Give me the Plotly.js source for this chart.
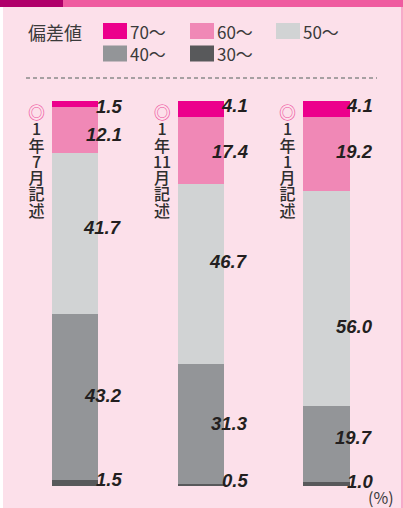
<!DOCTYPE html>
<html>
<head>
<meta charset="utf-8">
<script src="https://cdn.plot.ly/plotly-3.0.1.min.js"></script>
<style>
html,body{margin:0;padding:0;background:#FCE0EA;}
#chart{width:403px;height:508px;}
</style>
</head>
<body>
<div id="chart"></div>
<script>
// ---- data ----
var periods = ['1年7月記述', '1年11月記述', '1年1月記述'];
var legendTitle = '偏差値';
var seriesNames = ['70～', '60～', '50～', '40～', '30～'];
var v70 = [1.5, 4.1, 4.1];
var v60 = [12.1, 17.4, 19.2];
var v50 = [41.7, 46.7, 56.0];
var v40 = [43.2, 31.3, 19.7];
var v30 = [1.5, 0.5, 1.0];
var unitLabel = '(%)';

// ---- style ----
var W = 403, H = 508;
var colors = {'70～': '#EC008C', '60～': '#F088B6', '50～': '#D1D3D4', '40～': '#939598', '30～': '#58595B'};
var seriesVals = {'70～': v70, '60～': v60, '50～': v50, '40～': v40, '30～': v30};
var stackOrder = ['30～', '40～', '50～', '60～', '70～']; // bottom -> top
// label nudges in px (positive = down), layout only
var nudges = {'70～': [3, -3, -3], '60～': [4, 1, -2], '50～': [-6, -12, 28], '40～': [-2, 0, -7], '30～': [-4, -5, -3]};

function py(p) { return 1 - p / H; }

var traces = stackOrder.map(function (name) {
  return {
    type: 'bar',
    name: name,
    x: periods,
    y: seriesVals[name],
    marker: {color: colors[name], line: {width: 0}},
    width: 0.366,
    hoverinfo: 'skip',
    showlegend: false
  };
});

var annotations = [];
var shapes = [];

// value labels
var cum = periods.map(function () { return 0; });
stackOrder.forEach(function (name) {
  var vals = seriesVals[name];
  vals.forEach(function (v, i) {
    var mid = cum[i] + v / 2;
    cum[i] += v;
    annotations.push({
      x: periods[i], y: mid, xref: 'x', yref: 'y',
      text: v.toFixed(1),
      showarrow: false, xanchor: 'right', yanchor: 'middle',
      xshift: 49, yshift: -nudges[name][i],
      font: {family: 'Liberation Sans, Arial, sans-serif', size: 18.5, color: '#231F20', weight: 'bold', style: 'italic'}
    });
  });
});

// vertical period labels (one stacked text per period)
periods.forEach(function (p, i) {
  var rows = p.match(/\d+|./g).map(function (r) {
    return '<span style="font-size:16px;font-weight:500;color:#2E2E2E">' + r + '</span>';
  });
  rows.unshift('<span style="font-size:17px;color:#EE4E9C">◎</span>');
  annotations.push({
    x: periods[i], xref: 'x', y: py(160), yref: 'paper',
    text: rows.join('<br>'), showarrow: false, xanchor: 'center', yanchor: 'middle',
    align: 'center', xshift: -39,
    font: {family: 'Noto Sans CJK JP, sans-serif', size: 12.5, color: '#2E2E2E'}
  });
});

// custom legend
annotations.push({
  x: 26 / W, xref: 'paper', y: py(32), yref: 'paper', text: legendTitle,
  showarrow: false, xanchor: 'left', yanchor: 'middle',
  font: {family: 'Noto Sans CJK JP, sans-serif', size: 18, color: '#3A3A3A'}
});
var legCols = [103, 190, 276];
var legRows = [31, 53.5];
seriesNames.forEach(function (name, j) {
  var cx = legCols[j % 3], cy = legRows[Math.floor(j / 3)];
  shapes.push({
    type: 'rect', xref: 'paper', yref: 'paper',
    x0: cx / W, x1: (cx + 24) / W, y0: py(cy - 8), y1: py(cy + 8),
    fillcolor: colors[name], line: {width: 0}
  });
  annotations.push({
    x: (cx + 25) / W, xref: 'paper', y: py(cy), yref: 'paper', text: name,
    showarrow: false, xanchor: 'left', yanchor: 'middle',
    font: {family: 'Noto Sans CJK JP, sans-serif', size: 17, color: '#3A3A3A'}
  });
});

// unit
annotations.push({
  x: 396 / W, xref: 'paper', y: py(497), yref: 'paper', text: unitLabel,
  showarrow: false, xanchor: 'right', yanchor: 'middle',
  font: {family: 'Noto Sans CJK JP, sans-serif', size: 16, color: '#3A3A3A'}
});

// decorations
shapes.push({type: 'rect', xref: 'paper', yref: 'paper', x0: 0, x1: 1, y0: py(7), y1: 1, fillcolor: '#EF5BA0', line: {width: 0}, layer: 'below'});
shapes.push({type: 'rect', xref: 'paper', yref: 'paper', x0: 0, x1: 63 / W, y0: py(7), y1: 1, fillcolor: '#B0006A', line: {width: 0}, layer: 'below'});
shapes.push({type: 'rect', xref: 'paper', yref: 'paper', x0: 0, x1: 3 / W, y0: 0, y1: py(7), fillcolor: '#FFFFFF', line: {width: 0}, layer: 'below'});
shapes.push({type: 'rect', xref: 'paper', yref: 'paper', x0: 401 / W, x1: 1, y0: 0, y1: py(7), fillcolor: '#F7A9C9', line: {width: 0}, layer: 'below'});
shapes.push({type: 'line', xref: 'paper', yref: 'paper', x0: 26 / W, x1: 377 / W, y0: py(78), y1: py(78), line: {color: '#8A8A8A', width: 1.5, dash: '4px,3px'}});

var layout = {
  width: W, height: H,
  margin: {l: 0, r: 0, t: 0, b: 0, pad: 0},
  paper_bgcolor: '#FCE0EA',
  plot_bgcolor: 'rgba(0,0,0,0)',
  barmode: 'stack',
  showlegend: false,
  xaxis: {type: 'category', range: [-0.5964, 2.6084], visible: false, fixedrange: true},
  yaxis: {range: [-5.714, 126.23], visible: false, fixedrange: true},
  annotations: annotations,
  shapes: shapes
};

Plotly.newPlot('chart', traces, layout, {staticPlot: true, displayModeBar: false});
</script>
</body>
</html>
